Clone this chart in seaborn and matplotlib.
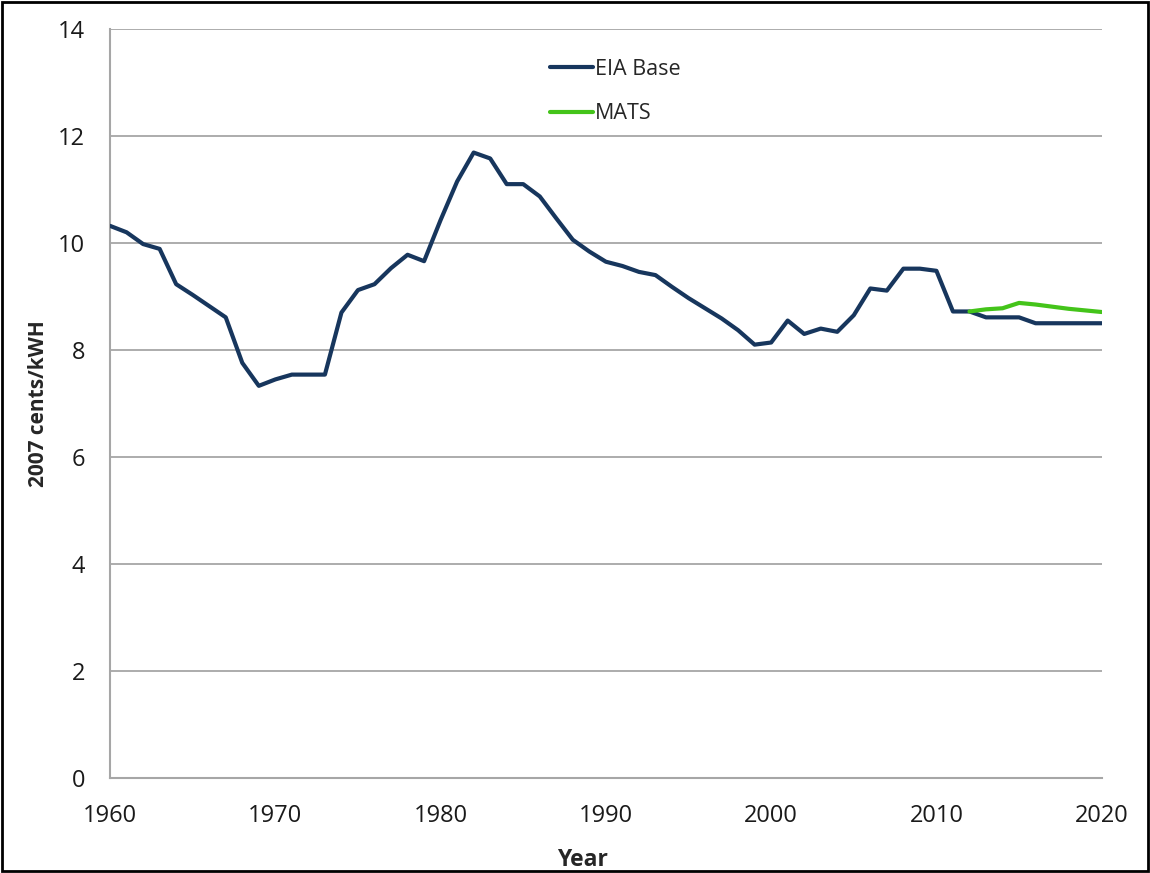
import numpy as np
import pandas as pd
import matplotlib
matplotlib.use("Agg")
import matplotlib.pyplot as plt
import seaborn as sns
from matplotlib.patches import Rectangle

# data (2007 cents/kWh)
years = list(range(1960, 2021))
eia_base = [10.32, 10.20, 9.98, 9.89, 9.23, 9.03, 8.82, 8.61, 7.76, 7.33,
            7.45, 7.54, 7.54, 7.54, 8.70, 9.12, 9.23, 9.53, 9.78, 9.66,
            10.43, 11.15, 11.69, 11.58, 11.10, 11.10, 10.87, 10.46, 10.06, 9.84,
            9.65, 9.57, 9.46, 9.40, 9.18, 8.97, 8.78, 8.59, 8.37, 8.10,
            8.14, 8.55, 8.30, 8.40, 8.34, 8.65, 9.15, 9.11, 9.52, 9.52,
            9.48, 8.72, 8.72, 8.61, 8.61, 8.61, 8.50, 8.50, 8.50, 8.50,
            8.50]
mats_years = list(range(2012, 2021))
mats = [8.72, 8.76, 8.78, 8.88, 8.85, 8.81, 8.77, 8.74, 8.71]

navy = '#17365d'
green = '#44c41a'
grey = '#a6a6a6'

sns.set_style("white")
plt.rcParams['font.family'] = ['Open Sans', 'DejaVu Sans']

fig = plt.figure(figsize=(11.5, 8.73), dpi=100)
ax = fig.add_axes([0.0957, 0.1088, 0.8623, 0.858])

df1 = pd.DataFrame({'Year': years, 'value': eia_base})
df2 = pd.DataFrame({'Year': mats_years, 'value': mats})
sns.lineplot(data=df1, x='Year', y='value', ax=ax, color=navy, linewidth=3,
             label='EIA Base', zorder=3)
sns.lineplot(data=df2, x='Year', y='value', ax=ax, color=green, linewidth=3,
             label='MATS', zorder=4)

ax.set_xlim(1960, 2020)
ax.set_ylim(0, 14)
ax.set_xticks(range(1960, 2021, 10))
ax.set_yticks(range(0, 15, 2))
ax.yaxis.grid(True, color=grey, linewidth=1.3)
ax.xaxis.grid(False)
ax.set_axisbelow(True)

for s in ['top', 'right']:
    ax.spines[s].set_visible(False)
for s in ['left', 'bottom']:
    ax.spines[s].set_color(grey)
    ax.spines[s].set_linewidth(1.5)

ax.tick_params(axis='both', direction='out', width=1.3, color=grey,
               labelsize=17, labelcolor='#1a1a1a')
ax.tick_params(axis='x', length=7, pad=12)
ax.tick_params(axis='y', length=6, pad=12)

ax.set_xlabel('Year', fontsize=16.5, fontweight='bold')
ax.set_ylabel('2007 cents/kWH', fontsize=15, fontweight='bold')
ax.xaxis.set_label_coords(0.476, -0.093)
ax.yaxis.set_label_coords(-0.062, 0.5)

ax.legend(loc='upper left', bbox_to_anchor=(0.4435, 0.96), frameon=False,
          borderpad=0, borderaxespad=0,
          fontsize=15.5, handlelength=2.0, handletextpad=0.1, labelspacing=1.08)

# border around the whole picture
fig.patches.append(Rectangle((0.002, 0.002), 0.996, 0.996, transform=fig.transFigure,
                             fill=False, edgecolor='black', linewidth=2))

fig.savefig('out.png', dpi=100)
